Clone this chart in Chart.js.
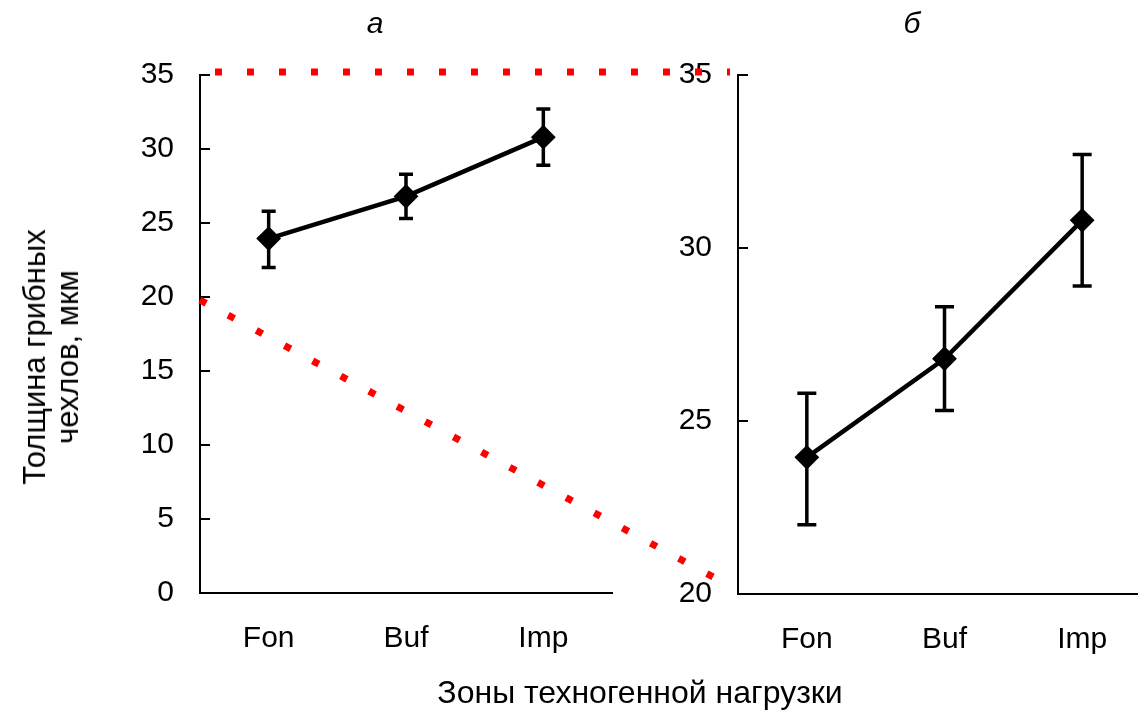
<!DOCTYPE html>
<html>
<head>
<meta charset="utf-8">
<script src="https://cdn.jsdelivr.net/npm/chart.js@4.4.0/dist/chart.umd.min.js"></script>
<style>
  html, body { margin: 0; padding: 0; background: #fff; overflow: hidden; }
  body { width: 1138px; height: 710px; position: relative; font-family: "Liberation Sans", Arial, sans-serif; color: #000; }
  canvas { position: absolute; top: 0; }
  .txt { position: absolute; white-space: nowrap; font-size: 30px; line-height: 33px; }
</style>
</head>
<body>
<canvas id="chartA" width="625" height="710" style="left:0px"></canvas>
<canvas id="chartB" width="524" height="710" style="left:640px"></canvas>
<canvas id="links" width="1138" height="710" style="left:0px;pointer-events:none"></canvas>
<div class="txt" style="left:375px;top:22px;transform:translate(-50%,-50%);font-style:italic">а</div>
<div class="txt" style="left:912px;top:22px;transform:translate(-50%,-50%);font-style:italic">б</div>
<div class="txt" style="left:51px;top:357px;font-size:31px;transform:translate(-50%,-50%) rotate(-90deg);text-align:center">Толщина грибных<br>чехлов, мкм</div>
<div class="txt" style="left:640px;top:692px;font-size:32px;transform:translate(-50%,-50%)">Зоны техногенной нагрузки</div>
<script>
// zones and fungal sheath thickness (mean with error range)
var zones = ["Fon", "Buf", "Imp"];
var means = [23.95, 26.8, 30.8];
var lower = [22.0, 25.3, 28.9];
var upper = [25.8, 28.3, 32.7];

var ticksA = [0, 5, 10, 15, 20, 25, 30, 35];
var ticksB = [20, 25, 30, 35];

var FONT = "'Liberation Sans', Arial, sans-serif";

// error bars, drawn with the chart's own scales
var errorBars = {
  id: "errorBars",
  beforeDatasetsDraw: function (chart, args, opts) {
    var ctx = chart.ctx, x = chart.scales.x, y = chart.scales.y;
    ctx.save();
    ctx.strokeStyle = "#000";
    ctx.lineWidth = 3.5;
    for (var i = 0; i < zones.length; i++) {
      var px = x.getPixelForValue(i);
      var y1 = y.getPixelForValue(lower[i]);
      var y2 = y.getPixelForValue(upper[i]);
      ctx.beginPath();
      ctx.moveTo(px, y1); ctx.lineTo(px, y2);
      ctx.moveTo(px - opts.cap, y1); ctx.lineTo(px + opts.cap, y1);
      ctx.moveTo(px - opts.cap, y2); ctx.lineTo(px + opts.cap, y2);
      ctx.stroke();
    }
    ctx.restore();
  }
};

// tick marks pointing into the plot
var innerTicks = {
  id: "innerTicks",
  afterDraw: function (chart) {
    var ctx = chart.ctx, y = chart.scales.y, left = chart.chartArea.left;
    ctx.save();
    ctx.strokeStyle = "#000";
    ctx.lineWidth = 2;
    for (var i = 0; i < y.ticks.length; i++) {
      var py = y.getPixelForTick(i);
      ctx.beginPath();
      ctx.moveTo(left, py); ctx.lineTo(left + 10, py);
      ctx.stroke();
    }
    ctx.restore();
  }
};

function makeChart(id, yMin, tickList, yWidth, xHeight, cap) {
  return new Chart(document.getElementById(id), {
    type: "line",
    data: {
      labels: zones,
      datasets: [{
        data: means,
        borderColor: "#000",
        borderWidth: 4.5,
        backgroundColor: "#000",
        pointStyle: "rectRot",
        pointRadius: 11,
        pointBorderWidth: 2,
        pointBackgroundColor: "#000",
        pointBorderColor: "#000",
        tension: 0
      }]
    },
    options: {
      responsive: false,
      animation: false,
      devicePixelRatio: 1,
      layout: { padding: { top: 75, left: 0, right: 0, bottom: 0 } },
      plugins: {
        legend: { display: false },
        tooltip: { enabled: false },
        errorBars: { cap: cap }
      },
      scales: {
        x: {
          type: "category",
          offset: true,
          grid: { display: true, drawOnChartArea: false, drawTicks: false },
          border: { display: true, color: "#000", width: 2 },
          ticks: { color: "#000", padding: 28, font: { family: FONT, size: 30 } },
          afterFit: function (s) { s.height = xHeight; }
        },
        y: {
          min: yMin,
          max: 35,
          afterBuildTicks: function (s) { s.ticks = tickList.map(function (v) { return { value: v }; }); },
          grid: { display: true, drawOnChartArea: false, drawTicks: false },
          border: { display: true, color: "#000", width: 2 },
          ticks: { color: "#000", padding: 26, font: { family: FONT, size: 30 } },
          afterFit: function (s) { s.width = yWidth; }
        }
      }
    },
    plugins: [errorBars, innerTicks]
  });
}

var chartA = makeChart("chartA", 0, ticksA, 200, 117, 7);
var chartB = makeChart("chartB", 20, ticksB, 98, 116, 9.5);

// red dotted zoom connectors between panel a and panel b
function drawLinks() {
  var cv = document.getElementById("links");
  var ctx = cv.getContext("2d");
  var offA = document.getElementById("chartA").offsetLeft;
  var offB = document.getElementById("chartB").offsetLeft;
  var leftA = offA + chartA.chartArea.left;
  var leftB = offB + chartB.chartArea.left;
  var yA = chartA.scales.y, yB = chartB.scales.y;
  ctx.save();
  ctx.strokeStyle = "#ff0000";
  ctx.lineWidth = 7;
  ctx.lineCap = "butt";
  ctx.setLineDash([7, 25]);
  ctx.beginPath();
  ctx.moveTo(leftA + 15, yA.getPixelForValue(35) - 3);
  ctx.lineTo(leftB - 8, yB.getPixelForValue(35) - 3);
  ctx.stroke();
  ctx.beginPath();
  ctx.moveTo(leftA, yA.getPixelForValue(20) + 3);
  ctx.lineTo(leftB - 23, yB.getPixelForValue(20) - 16);
  ctx.stroke();
  ctx.restore();
}
drawLinks();
</script>
</body>
</html>
